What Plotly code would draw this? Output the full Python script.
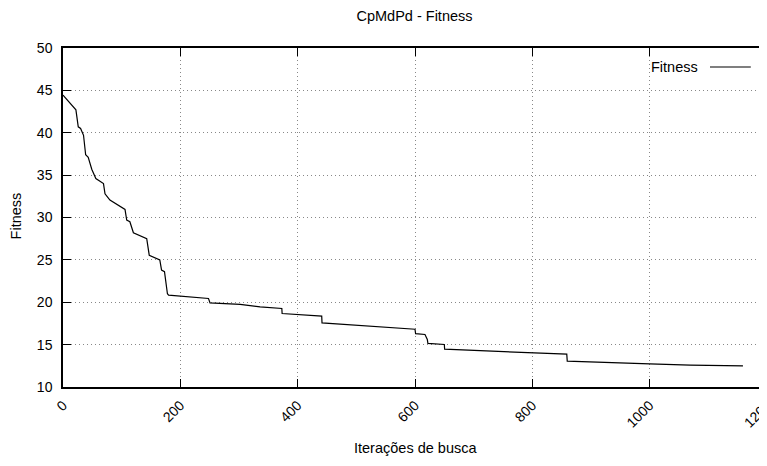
import plotly.graph_objects as go

iterations = [0, 22, 26, 30, 35, 38.6, 43, 49, 56, 69, 71.6, 80, 105.7, 108.6, 114, 120,
              142.7, 147, 165, 168, 173, 178, 180, 248, 250.6, 302, 336, 373, 373.5,
              441, 441.5, 600, 601, 617, 621, 622, 650, 650.5, 858.7, 859.5, 1000, 1069, 1159]
fitness = [44.45, 42.7, 40.7, 40.5, 39.7, 37.4, 37.1, 35.7, 34.6, 34.0, 32.8, 32.05, 30.95,
           29.7, 29.5, 28.2, 27.5, 25.55, 25.0, 23.8, 23.6, 21.0, 20.85, 20.45, 19.93,
           19.74, 19.45, 19.27, 18.67, 18.36, 17.57, 16.82, 16.3, 16.2, 15.6, 15.14, 15.02,
           14.46, 13.87, 13.05, 12.73, 12.57, 12.49]

x_ticks = [0, 200, 400, 600, 800, 1000, 1200]
y_ticks = [10, 15, 20, 25, 30, 35, 40, 45, 50]

FONT = "Liberation Sans, Arial, Helvetica, sans-serif"
TXT = 14.5

fig = go.Figure()
fig.add_trace(go.Scatter(x=iterations, y=fitness, mode="lines",
                         line=dict(color="black", width=1.2), name="Fitness",
                         showlegend=False))

axis_common = dict(
    showline=True, linecolor="black", linewidth=1.5, mirror="ticks",
    ticks="inside", ticklen=8, tickcolor="black", tickwidth=1.2,
    showgrid=True, gridcolor="#888888", griddash="1px,3px", gridwidth=1,
    zeroline=False, tickfont=dict(family=FONT, size=14, color="black"),
    automargin=False,
)

fig.update_xaxes(range=[0, 1200], tickvals=x_ticks, tickangle=-45,
                 ticklabelstandoff=3, ticklabeloverflow="allow", **axis_common)
fig.update_yaxes(range=[10, 50], tickvals=y_ticks,
                 ticklabelstandoff=6, **axis_common)

# axis titles
fig.add_annotation(xref="paper", yref="paper", x=0.5, y=-0.180, text="Iterações de busca",
                   showarrow=False, xanchor="center", yanchor="middle",
                   font=dict(family=FONT, size=TXT, color="black"))
fig.add_annotation(xref="paper", yref="paper", x=-0.0668, y=0.506, text="Fitness", textangle=-90,
                   showarrow=False, xanchor="center", yanchor="middle",
                   font=dict(family=FONT, size=TXT, color="black"))

# legend drawn gnuplot-style: text then line sample
fig.add_annotation(xref="paper", yref="paper", x=0.905, y=0.944, text="Fitness",
                   showarrow=False, xanchor="right", yanchor="middle",
                   font=dict(family=FONT, size=TXT, color="black"))
fig.add_shape(type="line", xref="paper", yref="paper", x0=0.919, x1=0.977, y0=0.944, y1=0.944,
              line=dict(color="black", width=1.2))

# page body has an 8px margin; size the figure so the plot lands where the reference has it
fig.update_layout(
    width=759, height=458,
    margin=dict(l=55, r=0, t=40, b=79, autoexpand=False),
    plot_bgcolor="white", paper_bgcolor="white",
    title=dict(text="CpMdPd - Fitness", x=0.5356, xanchor="center", y=0.9825, yanchor="middle",
               font=dict(family=FONT, size=TXT, color="black")),
    showlegend=False,
)

fig.write_html("out.html")
